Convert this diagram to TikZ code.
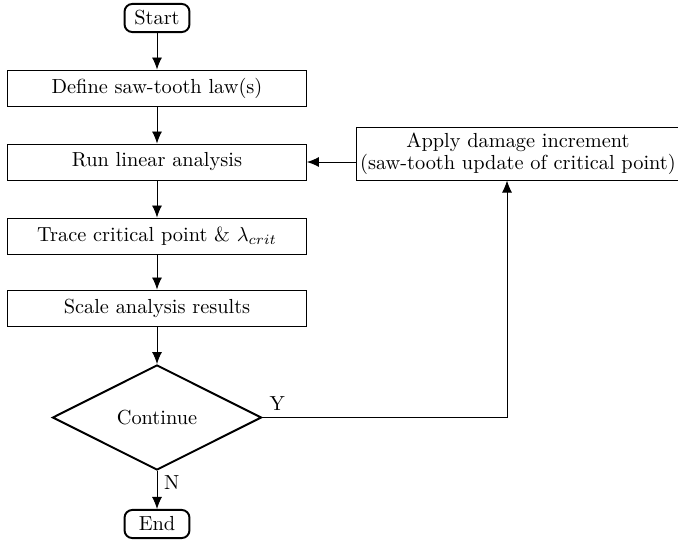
\documentclass[tikz,border=0pt]{standalone}
\usetikzlibrary{shapes.geometric,arrows.meta}
\begin{document}
\begin{tikzpicture}[x=0.4914pt,y=-0.4914pt,
  procbox/.style={draw,line width=0.45pt,minimum width=146.9pt,minimum height=17.7pt,inner sep=1pt},
  termbox/.style={draw,line width=0.95pt,rounded corners=3.8pt,minimum width=31.9pt,minimum height=13.8pt,inner sep=1pt},
  decbox/.style={draw,diamond,line width=0.95pt,minimum width=102.7pt,minimum height=51.6pt,inner sep=0pt},
  flow/.style={-{Latex[length=5.9pt,width=4.9pt]},line width=0.45pt}]
\useasboundingbox (0,0) rectangle (678,543);
\node[termbox] (start) at (157,18) {Start};
\node[procbox] (define) at (157,88) {Define saw-tooth law(s)};
\node[procbox] (run) at (157,162) {Run linear analysis};
\node[procbox] (trace) at (157,236) {Trace critical point \& $\lambda_{crit}$};
\node[procbox] (scale) at (157,308) {Scale analysis results};
\node[decbox] (cont) at (157,417.5) {Continue};
\node[termbox] (end) at (157,524) {End};
\node[draw,line width=0.45pt,minimum width=159.2pt,minimum height=25.6pt,inner sep=1pt,align=center,anchor=west] (apply) at (355.5,154) {Apply damage increment\\[-1pt](saw-tooth update of critical point)};
\coordinate (ycorner) at (507,417.5);
\draw[flow] (start) -- (define);
\draw[flow] (define) -- (run);
\draw[flow] (run) -- (trace);
\draw[flow] (trace) -- (scale);
\draw[flow] (scale) -- (cont);
\draw[flow] (cont) -- node[right,pos=0.3] {N} (end);
\draw[flow] (cont.east) -- node[pos=0,anchor=south west] {Y} (ycorner) -- (ycorner |- apply.south);
\draw[flow] (run.east -| apply.west) -- (run.east);
\end{tikzpicture}
\end{document}
